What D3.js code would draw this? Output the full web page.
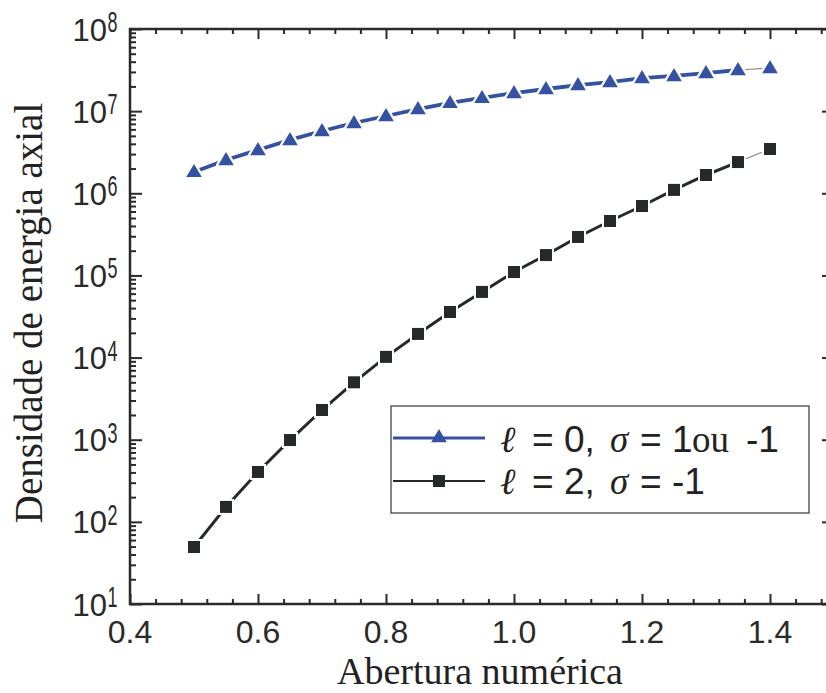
<!DOCTYPE html>
<html><head><meta charset="utf-8">
<script src="https://cdn.jsdelivr.net/npm/d3@7"></script>
<style>body{margin:0;background:#fff}</style>
</head><body><svg id="c" width="826" height="693"></svg>
<script>
// ---- data ----
const aperture = [0.5,0.55,0.6,0.65,0.7,0.75,0.8,0.85,0.9,0.95,1.0,1.05,1.1,1.15,1.2,1.25,1.3,1.35,1.4];
const seriesL0 = [1.82e6,2.54e6,3.37e6,4.46e6,5.73e6,7.17e6,8.73e6,1.06e7,1.26e7,1.45e7,1.66e7,1.86e7,2.08e7,2.26e7,2.53e7,2.68e7,2.91e7,3.17e7,3.35e7];
const seriesL2 = [49.4,152,405,991,2300,5000,1.02e4,1.94e4,3.59e4,6.3e4,1.10e5,1.77e5,2.94e5,4.60e5,7.0e5,1.10e6,1.67e6,2.40e6,3.46e6];
const xMajorTicks = [0.4,0.6,0.8,1.0,1.2,1.4];
const xTickLabels = ["0.4","0.6","0.8","1.0","1.2","1.4"];
const xMinorTicks = [0.44,0.48,0.52,0.56,0.64,0.68,0.72,0.76,0.84,0.88,0.92,0.96,1.04,1.08,1.12,1.16,1.24,1.28,1.32,1.36,1.44,1.48];
const yExponents = [1,2,3,4,5,6,7,8];
const xTitle = "Abertura numérica";
const yTitle = "Densidade de energia axial";

const svg = d3.select("#c");
const L=130, R=834, T=29, B=604;
const x = d3.scaleLinear().domain([0.4,1.5]).range([L,R]);
const y = d3.scaleLog().domain([10,1e8]).range([B,T]);
const axisCol = "#2a2a2a";
const blue = "#3451a4", black = "#25292a";

const yMajor = yExponents.map(e=>Math.pow(10,e));
const yMinor = [];
yExponents.slice(0,-1).forEach(e=>{for(let k=2;k<=9;k++) yMinor.push(k*Math.pow(10,e));});

function styleAxis(g){
  g.select(".domain").remove();
  g.selectAll(".tick line").attr("stroke",axisCol).attr("stroke-width",2);
  g.selectAll(".tick text").remove();
}
svg.append("g").attr("transform",`translate(0,${B})`).call(d3.axisBottom(x).tickValues(xMajorTicks).tickSize(-10)).call(styleAxis);
svg.append("g").attr("transform",`translate(0,${B})`).call(d3.axisBottom(x).tickValues(xMinorTicks).tickSize(-5)).call(styleAxis);
svg.append("g").attr("transform",`translate(0,${T})`).call(d3.axisTop(x).tickValues(xMajorTicks).tickSize(-10)).call(styleAxis);
svg.append("g").attr("transform",`translate(0,${T})`).call(d3.axisTop(x).tickValues(xMinorTicks).tickSize(-5)).call(styleAxis);
svg.append("g").attr("transform",`translate(${L},0)`).call(d3.axisLeft(y).tickValues(yMajor).tickSize(-12)).call(styleAxis);
svg.append("g").attr("transform",`translate(${L},0)`).call(d3.axisLeft(y).tickValues(yMinor).tickSize(-6)).call(styleAxis);
svg.append("g").attr("transform",`translate(${R},0)`).call(d3.axisRight(y).tickValues(yMajor).tickSize(-12)).call(styleAxis);
svg.append("g").attr("transform",`translate(${R},0)`).call(d3.axisRight(y).tickValues(yMinor).tickSize(-6)).call(styleAxis);

svg.append("rect").attr("x",L).attr("y",T).attr("width",R-L).attr("height",B-T)
  .attr("fill","none").attr("stroke",axisCol).attr("stroke-width",2.5);

const sans="Liberation Sans, Arial, sans-serif", serif="Liberation Serif, Times New Roman, serif";

svg.append("g").selectAll("text").data(xMajorTicks).join("text")
  .attr("x",d=>x(d)).attr("y",B+39).attr("text-anchor","middle")
  .attr("font-family",sans).attr("font-size",32).attr("fill",axisCol)
  .text((d,i)=>xTickLabels[i]);

const yl = svg.append("g");
yExponents.forEach(e=>{
  const yy = y(Math.pow(10,e));
  yl.append("text").attr("x",107).attr("y",yy+11.5).attr("text-anchor","end")
    .attr("font-family",sans).attr("font-size",31).attr("fill",axisCol).text("10");
  yl.append("text").attr("transform",`translate(107.5,${yy+3}) scale(0.62,1)`)
    .attr("font-family",sans).attr("font-size",29).attr("fill",axisCol).text(String(e));
});

svg.append("text").attr("x",480).attr("y",684).attr("text-anchor","middle")
  .attr("font-family",serif).attr("font-size",38).attr("fill","#222").text(xTitle);
svg.append("text").attr("transform","translate(42,313) rotate(-90)").attr("text-anchor","middle")
  .attr("font-family",serif).attr("font-size",39).attr("fill","#222").text(yTitle);

const pts0 = aperture.map((a,i)=>[a,seriesL0[i]]);
const pts2 = aperture.map((a,i)=>[a,seriesL2[i]]);
const line = d3.line().x(d=>x(d[0])).y(d=>y(d[1]));

function drawSeries(pts,col,w,thinCol){
  svg.append("path").attr("d",line(pts.slice(0,-1))).attr("fill","none").attr("stroke",col).attr("stroke-width",w);
  svg.append("path").attr("d",line(pts.slice(-2))).attr("fill","none").attr("stroke",thinCol).attr("stroke-width",1.2);
}
drawSeries(pts0,blue,3.8,"#8a8a8a");
drawSeries(pts2,black,3,"#8a8a8a");

const tri = "M0,-8L7.8,5.2L-7.8,5.2Z";
svg.append("g").selectAll("path").data(pts0).join("path")
  .attr("transform",d=>`translate(${x(d[0])},${y(d[1])})`).attr("d",tri)
  .attr("fill",blue).attr("stroke","#fff").attr("stroke-width",4.5).attr("stroke-linejoin","round").attr("paint-order","stroke");
svg.append("g").selectAll("rect").data(pts2).join("rect")
  .attr("x",d=>x(d[0])-6).attr("y",d=>y(d[1])-6).attr("width",12).attr("height",12)
  .attr("fill",black).attr("stroke","#fff").attr("stroke-width",4).attr("paint-order","stroke");

const lg = svg.append("g");
lg.append("rect").attr("x",391).attr("y",406).attr("width",418).attr("height",107)
  .attr("fill","#fff").attr("stroke","#444").attr("stroke-width",1.3);
lg.append("line").attr("x1",393).attr("x2",485).attr("y1",438).attr("y2",438).attr("stroke",blue).attr("stroke-width",3);
lg.append("path").attr("transform","translate(439,437)").attr("d",tri).attr("fill",blue);
lg.append("line").attr("x1",393).attr("x2",485).attr("y1",481).attr("y2",481).attr("stroke",black).attr("stroke-width",2.2);
lg.append("rect").attr("x",433).attr("y",475).attr("width",12).attr("height",12).attr("fill",black);

function part(xp,yp,txt,fam,italic){
  lg.append("text").attr("x",xp).attr("y",yp).attr("font-family",fam).attr("font-size",37)
    .attr("font-style",italic?"italic":"normal").attr("fill","#222").text(txt);
}
part(500,452,"ℓ",serif,true); part(532,452,"= 0,",sans,false); part(610,452,"σ",serif,true);
part(640,452,"= 1",sans,false); part(692,452,"ou",serif,false); part(746,452,"-1",sans,false);
part(500,494,"ℓ",serif,true); part(532,494,"= 2,",sans,false); part(610,494,"σ",serif,true);
part(640,494,"= -1",sans,false);
</script></body></html>
